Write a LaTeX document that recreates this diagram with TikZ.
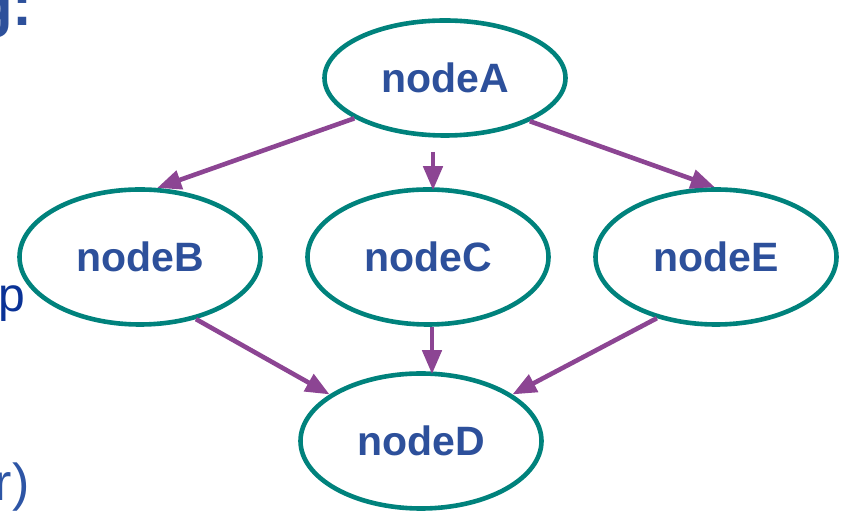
\documentclass[tikz,border=0pt]{standalone}
\usepackage{fontspec}
\setmainfont{Liberation Sans}
\usetikzlibrary{arrows.meta,calc,shapes.geometric}

\definecolor{nodeblue}{RGB}{45,80,155}
\definecolor{navy}{RGB}{10,50,150}
\definecolor{slideblue}{RGB}{45,85,165}
\definecolor{tealring}{RGB}{0,130,124}
\definecolor{plum}{RGB}{140,69,147}

\tikzset{
  oval/.style={ellipse, draw=tealring, line width=4.6pt, fill=white,
    minimum width=241pt, minimum height=135pt, inner sep=0pt,
    text=nodeblue, font=\fontsize{41}{49}\selectfont\bfseries},
  flatoval/.style={oval, minimum height=115pt},
  link/.style={draw=plum, line width=4.6pt,
    -{Triangle[length=24pt,width=19pt]}},
  slidetext/.style={inner sep=0pt, anchor=base west}
}

\begin{document}
\begin{tikzpicture}[x=1pt,y=1pt]
  \useasboundingbox (0,0) rectangle (846,513);

  % fragments of the surrounding slide text, cut by the frame
  \node[slidetext, text=nodeblue, font=\fontsize{60}{72}\selectfont\bfseries] (title) at (-24,487) {g:};
  \node[slidetext, text=navy, font=\fontsize{48}{58}\selectfont] (word) at (-2,201) {p};
  \node[slidetext, text=slideblue, font=\fontsize{52}{62}\selectfont] (tail) at (-5.5,12) {r)};

  % the graph
  \node[flatoval] (A) at (445,435) {nodeA};
  \node[oval] (B) at (140,256) {nodeB};
  \node[oval] (C) at (428,256) {nodeC};
  \node[oval] (E) at (716,256) {nodeE};
  \node[oval] (D) at (421,72) {nodeD};

  \coordinate (acs) at ($(A.south)+(-12,-14)$);
  \coordinate (cds) at ($(C.south)+(4,0)$);

  \draw[link] (A.204) -- (B.76);
  \draw[link] (acs) -- ($(acs |- C.north)+(0,-3)$);
  \draw[link] (A.333) -- (E.91);
  \draw[link] (B.312) -- (D.153);
  \draw[link] (cds) -- ($(cds |- D.north)+(0,-3)$);
  \draw[link] (E.226) -- (D.27);
\end{tikzpicture}
\end{document}
